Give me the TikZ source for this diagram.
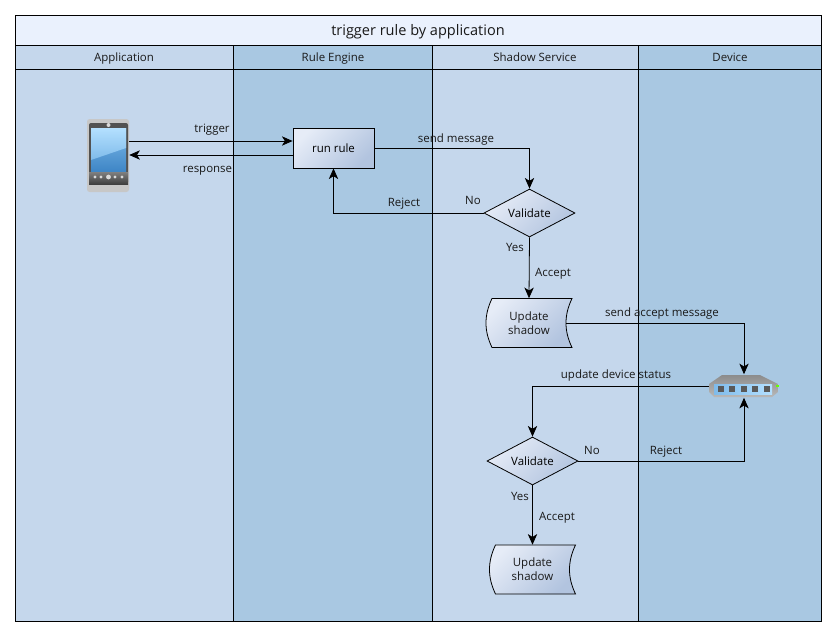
\documentclass[tikz,border=0pt]{standalone}
\usepackage{fontspec}
\setmainfont{Open Sans}
\usetikzlibrary{arrows.meta,shapes.geometric}
\definecolor{lanelight}{HTML}{C5D7EC}
\definecolor{lanedark}{HTML}{A9C8E2}
\definecolor{titlefill}{HTML}{EAF1FD}
\definecolor{boxlight}{HTML}{E6ECF7}
\definecolor{boxdark}{HTML}{B2C4DF}
\definecolor{screentop}{HTML}{B4E0FF}
\definecolor{screenmid}{HTML}{7FBBEA}
\definecolor{screenlow}{HTML}{3F86C6}
\tikzset{
	line/.style={line width=0.6pt,black},
	flow/.style={line,->},
	boxfill/.style={top color=boxlight,bottom color=boxdark,shading angle=45},
	tag/.style={inner sep=0,font=\fontsize{8.6}{10.5}\selectfont,text=black!90,text height=6.5pt,text depth=1.8pt},
	process/.style={tag,draw,line,boxfill,text height=8.5pt,minimum width=60.75pt,minimum height=30pt},
	decision/.style={tag,draw,line,boxfill,text height=8pt,diamond,aspect=1.9,minimum width=68.25pt,minimum height=36pt},
	icon/.style={minimum width=#1,inner sep=0}
}
\newcommand{\updatebox}[3]{
	\shadedraw [line,boxfill] (#2-37,#3-24.5) -- (#2+43,#3-24.5)
		.. controls (#2+35,#3-8) and (#2+35,#3+8) .. (#2+43,#3+24.5)
		-- (#2-37,#3+24.5)
		.. controls (#2-45,#3+8) and (#2-45,#3-8) .. (#2-37,#3-24.5) -- cycle;
	\node [tag,text height=,text depth=,align=center,minimum width=64.5pt,minimum height=36.75pt] (#1) at (#2,#3) {Update\\shadow};
}
\begin{document}
\begin{tikzpicture}[x=0.75pt,y=-0.75pt,>={Stealth[length=8pt,width=7pt,inset=2.2pt]}]
	\useasboundingbox (0,0) rectangle (836,636);

	% lanes
	\fill [lanelight] (15,45) rectangle (233,621);
	\fill [lanedark] (233,45) rectangle (432,621);
	\fill [lanelight] (432,45) rectangle (638,621);
	\fill [lanedark] (638,45) rectangle (821,621);
	\fill [titlefill] (15,15) rectangle (821,45);
	\draw [line] (15,15) rectangle (821,621);
	\draw [line] (15,45) -- (821,45);
	\draw [line] (15,69) -- (821,69);
	\draw [line] (233,45) -- (233,621);
	\draw [line] (432,45) -- (432,621);
	\draw [line] (638,45) -- (638,621);

	\node [tag,font=\fontsize{10.9}{12}\selectfont] (title) at (418,32) {trigger rule by application};
	\node [tag] (application) at (124,58) {Application};
	\node [tag] (engine) at (333,58) {Rule Engine};
	\node [tag] (shadowservice) at (535,58) {Shadow Service};
	\node [tag] (device) at (730,58) {Device};

	% phone
	\node [icon=31.5pt,minimum height=54.75pt,fill=black!22,rounded corners=2pt] (phone) at (108,155.5) {};
	\fill [black!68,rounded corners=1.5pt] (89,123) rectangle (128,184);
	\shade [top color=black!50,bottom color=black!75] (89,172) rectangle (128,184);
	\shade [top color=screenmid,bottom color=screenlow] (91,128) rectangle (126,171);
	\shade [top color=screentop,bottom color=screenmid] (91,128) -- (126,128) -- (126,148) -- (91,160) -- cycle;
	\fill [white!85!black] (108.5,125) circle (2);
	\foreach \bx in {95,101,115,122}
		\fill [white!85!black] (\bx,177) circle (1.6);
	\fill [white!85!black] (108.5,177) circle (2.4);

	% router
	\node [icon=52.5pt,minimum height=17.25pt] (router) at (744,386) {};
	\shade [top color=black!45,bottom color=black!28] (709,384) -- (722,375) -- (760,375) -- (778,384) -- (778,392) -- (772,397) -- (714,397) -- (709,392) -- cycle;
	\shade [left color=screenmid,right color=screentop] (714,384) rectangle (772,394);
	\foreach \bx in {721,732,744,755,767}
		\fill [black!65] (\bx-3,386) rectangle (\bx+3,392);
	\fill [green!60!yellow] (776,385) rectangle (779,387);

	% shapes
	\node [process] (run) at (333.5,148) {run rule};
	\node [decision] (validatea) at (529.5,213) {Validate};
	\updatebox{updatea}{529}{323}
	\node [decision] (validateb) at (532.5,461) {Validate};
	\updatebox{updateb}{532.5}{569.5}

	% connectors
	\draw [flow] (phone.east |- 0,141) -- (run.west |- 0,141);
	\draw [flow] (run.west |- 0,155) -- (phone.east |- 0,155);
	\draw [flow] (run.east) -- (run.east -| validatea.north) -- (validatea.north);
	\draw [flow] (validatea.west) -- (validatea.west -| run.south) -- (run.south);
	\draw [flow] (validatea.south) -- (updatea.north);
	\draw [flow] ([xshift=-4.5pt]updatea.east) -- (updatea.east -| router.north) -- (router.north);
	\draw [flow] (router.west) -- (router.west -| validateb.north) -- (validateb.north);
	\draw [flow] (validateb.east) -- (validateb.east -| router.south) -- (router.south);
	\draw [flow] (validateb.south) -- (updateb.north);

	% labels
	\node [tag] (ltrigger) at (212,129) {trigger};
	\node [tag] (lresponse) at (207.5,169) {response};
	\node [tag] (lsend) at (456,139) {send message};
	\node [tag] (lrejecta) at (404,203) {Reject};
	\node [tag] (lnoa) at (473,201) {No};
	\node [tag] (lyesa) at (515,248) {Yes};
	\node [tag] (lacceptaa) at (553,273) {Accept};
	\node [tag] (lsendaccept) at (662,313) {send accept message};
	\node [tag] (lupdate) at (616,375) {update device status};
	\node [tag] (lnob) at (592,451) {No};
	\node [tag] (lrejectb) at (666,451) {Reject};
	\node [tag] (lyesb) at (520,497) {Yes};
	\node [tag] (lacceptb) at (557,517) {Accept};
\end{tikzpicture}
\end{document}
